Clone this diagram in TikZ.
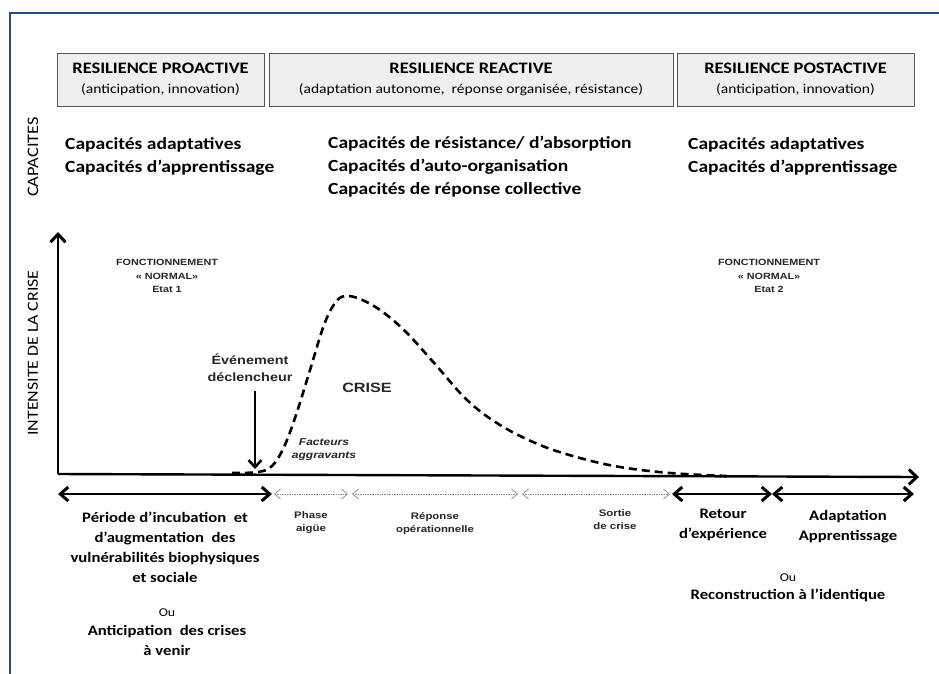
\documentclass[tikz,border=0pt]{standalone}
\usepackage{fontspec}
\setmainfont{Carlito}[FakeStretch=1.15]
\newfontfamily\arialfont{Liberation Sans}[FakeStretch=1.2]
\usetikzlibrary{arrows.meta}
\usetikzlibrary{positioning}

\definecolor{framebleu}{HTML}{2A4A86}
\definecolor{boxgris}{HTML}{EFEFEF}
\definecolor{boxbord}{HTML}{555555}
\definecolor{petitgris}{HTML}{262626}
\definecolor{pointgris}{HTML}{8A8A8A}

\newcommand{\titre}[1]{{\fontsize{16}{19}\selectfont\bfseries #1}}
\newcommand{\sous}[1]{{\fontsize{13.5}{16}\selectfont #1}}

\tikzset{
  phasebox/.style={draw=boxbord, fill=boxgris, line width=0.8pt, minimum height=53pt, inner sep=0pt, align=center, font=\fontsize{13.5}{20}\selectfont},
  capa/.style={anchor=west, align=left, inner sep=0pt, font=\fontsize{17}{23}\selectfont\bfseries},
  axe/.style={line width=2.4pt, -{Straight Barb[length=8pt,width=15pt,line width=3pt]}},
  duree/.style={line width=2.4pt, {Straight Barb[length=8pt,width=14pt,line width=3pt]}-{Straight Barb[length=8pt,width=14pt,line width=3pt]}},
  etape/.style={pointgris, line width=0.7pt, densely dotted, shorten <=2pt, shorten >=2pt, {Straight Barb[length=6pt,width=10pt]}-{Straight Barb[length=6pt,width=10pt]}},
  petit/.style={align=center, inner sep=0pt, text=petitgris, font=\arialfont\fontsize{9}{13.5}\selectfont\bfseries},
  periode/.style={align=center, inner sep=0pt, font=\fontsize{14.5}{20}\selectfont\bfseries},
}

\begin{document}
\begin{tikzpicture}[x=1pt,y=-1pt]
\clip (0,0) rectangle (939,673);
\useasboundingbox (0,0) rectangle (939,673);
\fill[white] (0,0) rectangle (939,673);
%% cadre
\draw[framebleu, line width=1.8pt] (10,700) -- (10,13) -- (960,13);

%% en-tetes
\node[phasebox, minimum width=207pt] (proact) at (160.5,79.5) {\titre{RESILIENCE PROACTIVE}\\ \sous{(anticipation, innovation)}};
\node[phasebox, minimum width=404pt] (react) at (471,79.5) {\titre{RESILIENCE REACTIVE}\\ \sous{(adaptation autonome,~ réponse organisée, résistance)}};
\node[phasebox, minimum width=237pt] (postact) at (795.5,79.5) {\titre{RESILIENCE POSTACTIVE}\\ \sous{(anticipation, innovation)}};

%% capacites
\node[rotate=90, inner sep=0pt, font=\fontsize{16}{18}\selectfont] (lblcapa) at (33,157) {CAPACITES};
\node[capa] (capa1) at (65,156) {Capacités adaptatives\\Capacités d’apprentissage};
\node[capa] (capa2) at (328,167) {Capacités de résistance/ d’absorption\\Capacités d’auto-organisation\\Capacités de réponse collective};
\node[capa] (capa3) at (688,156) {Capacités adaptatives\\Capacités d’apprentissage};

%% axes
\coordinate (O) at (58,474);
\coordinate (ytop) at (58,232);
\coordinate (xend) at (919,477);
\draw[axe] (O) -- (ytop);
\draw[axe] (O) -- (xend);
\node[rotate=90, inner sep=0pt, font=\fontsize{15.5}{18}\selectfont] (lblint) at (33,353) {INTENSITE DE LA CRISE};

%% courbe de crise
\draw[line width=2.6pt, dash pattern=on 8pt off 5pt] plot[smooth, tension=0.6] coordinates {(232,473) (258,472) (272,466) (284,447) (296,415) (310,370) (324,325) (335,303) (345,296) (360,299) (380,310) (405,331) (435,364) (467,400) (500,425) (540,445) (580,458) (620,467) (670,473) (727,476)};

%% textes du graphe
\node[petit] (normal1) at (167,276) {FONCTIONNEMENT\\«~NORMAL»\\Etat 1};
\node[petit] (normal2) at (769,276) {FONCTIONNEMENT\\«~NORMAL»\\Etat 2};
\node[petit, font=\arialfont\fontsize{12}{17}\selectfont\bfseries] (evt) at (250,368) {Événement\\déclencheur};
\node[petit, font=\arialfont\fontsize{13.5}{16}\selectfont\bfseries] (crise) at (367,388) {CRISE};
\node[petit, font=\arialfont\fontsize{10}{13}\selectfont\bfseries\itshape] (facteurs) at (324,450) {Facteurs\\aggravants};
\coordinate (evthaut) at (255,391);
\coordinate (evtbas) at (255,469);
\draw[line width=2.2pt, -{Straight Barb[length=7pt,width=13pt,line width=2.6pt]}] (evthaut) -- (evtbas);

%% periodes
\coordinate (t0) at (58,494);
\coordinate (t1) at (272,494);
\coordinate (t2) at (350,494);
\coordinate (t3) at (520,494);
\coordinate (t4) at (672,494);
\coordinate (t5) at (772,494);
\coordinate (t6) at (914,494);
\draw[duree] (t0) -- (t1);
\draw[etape] (t1) -- (t2);
\draw[etape] (t2) -- (t3);
\draw[etape] (t3) -- (t4);
\draw[duree] (t4) -- (t5);
\draw[duree] (t5) -- (t6);

\node[petit, font=\arialfont\fontsize{9.5}{13}\selectfont\bfseries] (aigue) at (311,523) {Phase\\aigüe};
\node[petit, font=\arialfont\fontsize{9.5}{13}\selectfont\bfseries] (operation) at (435,523) {Réponse\\opérationnelle};
\node[petit, font=\arialfont\fontsize{9.5}{13}\selectfont\bfseries] (sortie) at (615,520) {Sortie\\de crise};

\node[periode] (incubation) at (165,547) {Période d’incubation~ et\\d’augmentation~ des\\vulnérabilités biophysiques\\et sociale};
\node[inner sep=0pt, font=\fontsize{12}{14}\selectfont] (ou1) at (167,613) {Ou};
\node[periode, below=8pt of ou1] (anticip) {Anticipation~ des crises\\à venir};
\node[periode] (retex) at (723,525) {Retour\\d’expérience};
\node[periode] (apprent) at (848,527) {Adaptation\\Apprentissage};
\node[inner sep=0pt, font=\fontsize{12}{14}\selectfont] (ou2) at (788,578) {Ou};
\node[periode, below=7pt of ou2] (reconst) {Reconstruction à l’identique};
\end{tikzpicture}
\end{document}
